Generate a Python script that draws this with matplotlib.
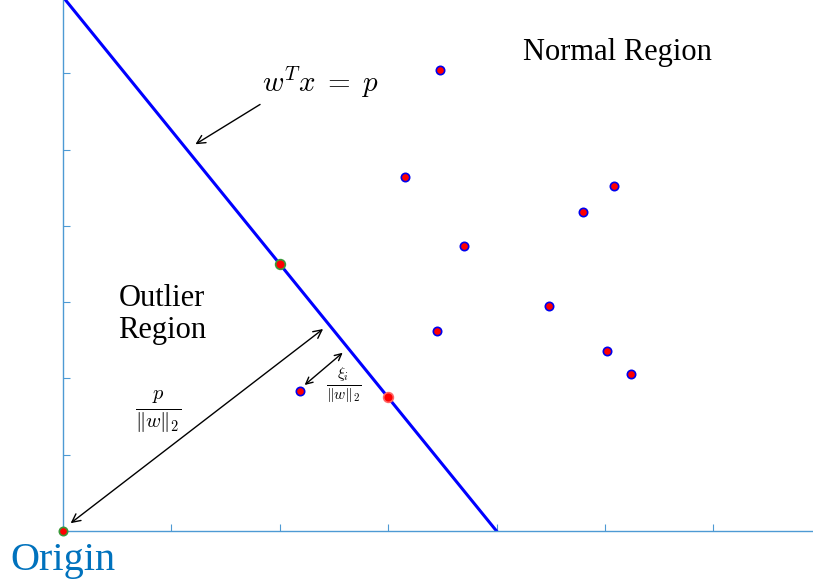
import matplotlib.pyplot as plt

plt.rcParams['mathtext.fontset'] = 'cm'

# boundary line w^T x = p
line_x = [0, 4]
line_y = [7, 0]

# normal points
normal_x = [3.48, 3.16, 5.08, 4.80, 3.70, 4.48, 3.45, 5.02, 5.24]
normal_y = [6.04, 4.64, 4.52, 4.18, 3.74, 2.95, 2.62, 2.36, 2.06]

# outlier point
outlier_x = [2.19]
outlier_y = [1.83]

# support points on the line
on_line_x = [2.0]
on_line_y = [3.5]
slack_x = [3.0]
slack_y = [1.75]

ax_color = '#4d9ad4'

fig = plt.figure(figsize=(8.13, 5.85), dpi=100)
ax = fig.add_axes([63/813, 54/585, 750/813, 531/585])

ax.plot(line_x, line_y, color='#0000ff', lw=2.2)
ax.plot(normal_x, normal_y, 'o', ms=6, mfc='red', mec='#0000ee', mew=1.2)
ax.plot(outlier_x, outlier_y, 'o', ms=6, mfc='red', mec='#0000ee', mew=1.2)
ax.plot(on_line_x, on_line_y, 'o', ms=7, mfc='red', mec='#3a9a3a', mew=1.2)
ax.plot(slack_x, slack_y, 'o', ms=7, mfc='red', mec='#ff6666', mew=1.2)
ax.plot([0], [0], 'o', ms=6, mfc='red', mec='#3a9a3a', mew=1.2, clip_on=False, zorder=5)

ax.set_xlim(0, 6.92)
ax.set_ylim(0, 6.96)
ax.set_xticks([1, 2, 3, 4, 5, 6])
ax.set_yticks([1, 2, 3, 4, 5, 6])
ax.tick_params(direction='in', length=5, color=ax_color, labelbottom=False, labelleft=False)
for s in ['top', 'right']:
    ax.spines[s].set_visible(False)
for s in ['left', 'bottom']:
    ax.spines[s].set_color(ax_color)
    ax.spines[s].set_linewidth(1.0)

serif = 'Liberation Serif'

ax.annotate('', xy=(1.20, 5.05), xytext=(1.84, 5.61),
            arrowprops=dict(arrowstyle='->', color='black', lw=1, mutation_scale=15))
ax.text(2.37, 5.88, r'$w^Tx\;=\;p$', fontsize=21, ha='center', va='center')

ax.annotate('', xy=(0.05, 0.08), xytext=(2.42, 2.67),
            arrowprops=dict(arrowstyle='<->', color='black', lw=1, mutation_scale=15))
ax.text(0.88, 1.57, r'$\frac{p}{\Vert w\Vert_2}$', fontsize=21, ha='center', va='center')

ax.annotate('', xy=(2.21, 1.89), xytext=(2.60, 2.36),
            arrowprops=dict(arrowstyle='<->', color='black', lw=1, mutation_scale=12))
ax.text(2.59, 1.93, r'$\frac{\xi_i}{\Vert w\Vert_2}$', fontsize=16, ha='center', va='center')

ax.text(5.12, 6.27, 'Normal Region', family=serif, fontsize=22, ha='center', va='center')
ax.text(0.51, 2.84, 'Outlier\nRegion', family=serif, fontsize=22, ha='left', va='center',
        linespacing=1.15)
ax.text(0.0, -0.39, 'Origin', family=serif, fontsize=29, color='#0072bd',
        ha='center', va='center', clip_on=False)

fig.savefig('out.png', dpi=100)
